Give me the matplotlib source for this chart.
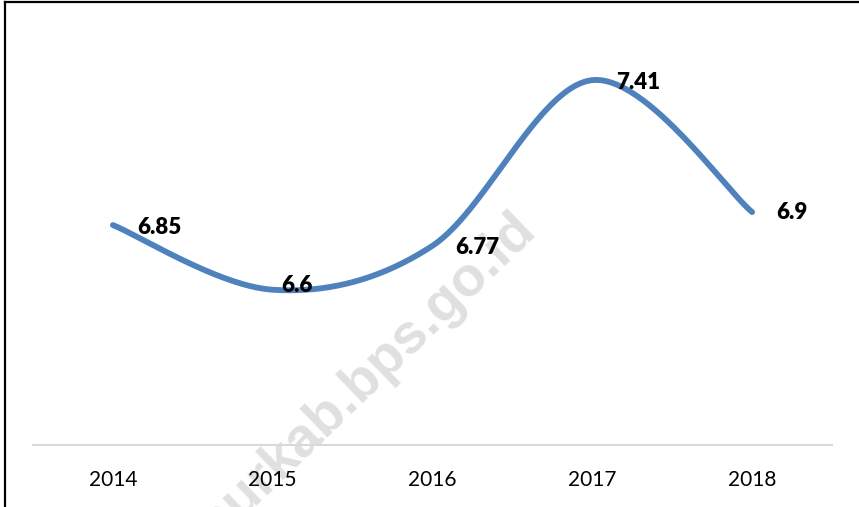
import numpy as np
import matplotlib.pyplot as plt
from matplotlib.lines import Line2D

# data
years = ['2014', '2015', '2016', '2017', '2018']
growth = [6.85, 6.6, 6.77, 7.41, 6.9]

# label offsets in pixels (right of point, one label nudged by hand)
label_offsets = [(24, -2), (9, 4), (23, -2), (24, -2), (24, 0)]

plt.rcParams['font.family'] = ['Lato', 'DejaVu Sans']


def smooth_curve(xs, ys, n=60):
    # bezier smoothing like spreadsheet "smoothed line"
    xs = np.asarray(xs, float)
    ys = np.asarray(ys, float)
    px = np.concatenate([[xs[0]], xs, [xs[-1]]])
    py = np.concatenate([[ys[0]], ys, [ys[-1]]])
    out_x, out_y = [], []
    t = np.linspace(0, 1, n)
    for i in range(1, len(px) - 2):
        p0 = np.array([px[i], py[i]])
        p3 = np.array([px[i + 1], py[i + 1]])
        c1 = p0 + (np.array([px[i + 1], py[i + 1]]) - np.array([px[i - 1], py[i - 1]])) / 6
        c2 = p3 - (np.array([px[i + 2], py[i + 2]]) - np.array([px[i], py[i]])) / 6
        b = ((1 - t) ** 3)[:, None] * p0 + (3 * (1 - t) ** 2 * t)[:, None] * c1 \
            + (3 * (1 - t) * t ** 2)[:, None] * c2 + (t ** 3)[:, None] * p3
        out_x.extend(b[:, 0])
        out_y.extend(b[:, 1])
    return out_x, out_y


fig = plt.figure(figsize=(8.59, 5.07), dpi=100)
ax = fig.add_axes([0.0384, 0.1223, 0.9302, 0.8166])

x = np.arange(len(years))
sx, sy = smooth_curve(x, growth)
ax.plot(sx, sy, color='#4F81BD', linewidth=4.2, solid_capstyle='round', zorder=3)

for i, v in enumerate(growth):
    ax.annotate(str(v), (x[i], v), xytext=label_offsets[i], textcoords='offset pixels',
                ha='left', va='center', fontsize=16, fontweight='heavy', color='black', zorder=4)

ax.set_xlim(-0.5, len(years) - 0.5)
ax.set_ylim(6.0, 7.6)
ax.set_xticks(x)
ax.set_xticklabels(years, fontsize=15)
ax.set_yticks([])
ax.tick_params(axis='x', length=0, pad=18)
for s in ['top', 'right', 'left']:
    ax.spines[s].set_visible(False)
ax.spines['bottom'].set_color('#D9D9D9')
ax.spines['bottom'].set_linewidth(1.5)
ax.patch.set_alpha(0)

# watermark, behind the chart
fig.text(0.627, 0.54, 'timurkab.bps.go.id', rotation=44, rotation_mode='anchor',
         ha='right', va='baseline', fontsize=40, fontweight='bold', color='#E0E0E0',
         family=['Liberation Sans', 'DejaVu Sans'], zorder=-1)

# outer frame (top and left edges visible)
fig.add_artist(Line2D([5 / 859, 5 / 859], [-0.01, 1 - 2 / 507], color='black', linewidth=1.6,
                      transform=fig.transFigure))
fig.add_artist(Line2D([5 / 859, 1.01], [1 - 2 / 507, 1 - 2 / 507], color='black', linewidth=1.6,
                      transform=fig.transFigure))

fig.savefig('out.png', dpi=100)
